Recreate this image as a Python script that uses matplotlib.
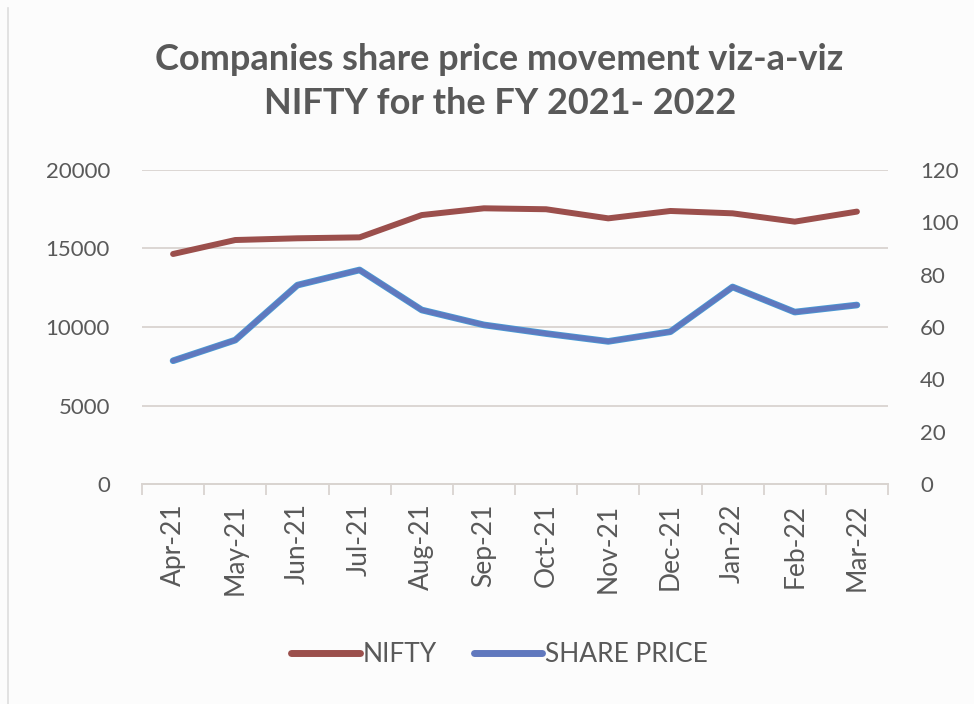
import numpy as np
import matplotlib.pyplot as plt
from matplotlib.lines import Line2D

plt.rcParams['font.family'] = ['Lato', 'DejaVu Sans']

# Data
months = ['Apr-21', 'May-21', 'Jun-21', 'Jul-21', 'Aug-21', 'Sep-21',
          'Oct-21', 'Nov-21', 'Dec-21', 'Jan-22', 'Feb-22', 'Mar-22']
nifty = [14650, 15540, 15650, 15710, 17130, 17560,
         17500, 16920, 17390, 17240, 16710, 17350]
share_price = [47.1, 55.0, 76.0, 81.8, 66.5, 60.8,
               57.5, 54.5, 58.2, 75.3, 65.7, 68.4]

nifty_color = '#9b4f4c'
share_color = '#6078be'
text_color = '#595959'
grid_color = '#d9d4d0'

fig = plt.figure(figsize=(9.74, 7.04), dpi=100, facecolor='#fcfcfc')
ax = fig.add_axes([142/974, 1 - 484/704, (888-142)/974, (484-170)/704])
ax.set_facecolor('#fcfcfc')
ax2 = ax.twinx()

x = np.arange(len(months))
ax.plot(x, nifty, color=nifty_color, lw=4.3, solid_capstyle='round', zorder=3)
ax2.plot(x, share_price, color='#4a9ad4', lw=4.8, solid_capstyle='round', zorder=3)
ax2.plot(x, share_price, color=share_color, lw=3.6, solid_capstyle='round', zorder=4)

ax.set_xlim(-0.5, len(months) - 0.5)
ax.set_ylim(0, 20000)
ax.set_yticks([0, 5000, 10000, 15000, 20000])
ax2.set_ylim(0, 120)
ax2.set_yticks([0, 20, 40, 60, 80, 100, 120])

ax.yaxis.grid(True, color=grid_color, lw=1.3)
ax.set_axisbelow(True)
for a in (ax, ax2):
    for s in ('top', 'left', 'right'):
        a.spines[s].set_visible(False)
    a.spines['bottom'].set_color(grid_color)
    a.spines['bottom'].set_linewidth(1.3)
    a.tick_params(axis='y', length=0, labelsize=16, labelcolor=text_color)
ax.tick_params(axis='y', pad=23)
ax2.tick_params(axis='y', pad=23)

ax.set_xticks(x)
ax.set_xticklabels(months, rotation=90, fontsize=19, color=text_color)
ax.tick_params(axis='x', length=0, pad=14)
ax.set_xticks(np.arange(-0.5, len(months)), minor=True)
ax.tick_params(axis='x', which='minor', length=8, color=grid_color, width=1.3)

fig.text(0.513, 1 - 60/704, 'Companies share price movement viz-a-viz',
         ha='center', va='center', fontsize=26, fontweight='bold', color=text_color)
fig.text(0.513, 1 - 104/704, 'NIFTY for the FY 2021- 2022',
         ha='center', va='center', fontsize=26, fontweight='bold', color=text_color)

handles = [Line2D([], [], color=nifty_color, lw=5, solid_capstyle='round'),
           Line2D([], [], color=share_color, lw=5, solid_capstyle='round')]
fig.legend(handles, ['NIFTY', 'SHARE PRICE'], loc='center',
           bbox_to_anchor=(0.513, 1 - 655/704), ncol=2, frameon=False,
           fontsize=19, labelcolor=text_color, handlelength=2.6,
           handletextpad=0.1, columnspacing=1.4)

fig.add_artist(Line2D([8/974, 8/974], [0, 1 - 8/704], color='#dddddd', lw=1.2))

fig.savefig('out.png', dpi=100, facecolor=fig.get_facecolor())
